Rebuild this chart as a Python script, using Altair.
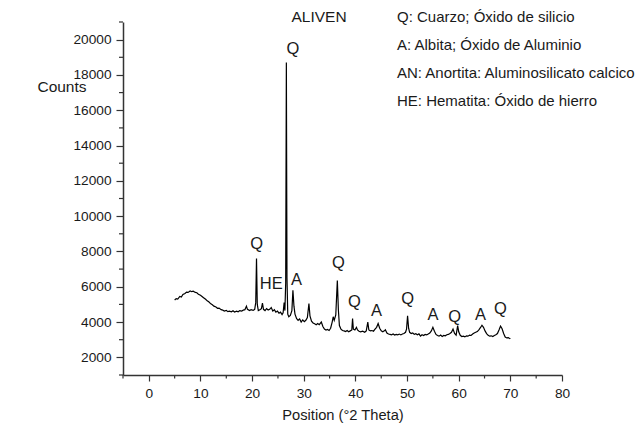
import altair as alt
import pandas as pd

# ---- data ----
two_theta = [
    5.0, 5.3, 5.6, 6.0, 6.3, 6.6, 7.0, 7.3, 7.6, 8.0, 8.3, 8.6, 9.0, 9.3, 9.6,
    10.0, 10.3, 10.6, 11.0, 11.3, 11.6, 12.0, 12.3, 12.6, 13.0, 13.3, 13.6, 14.0,
    14.3, 14.6, 15.0, 15.3, 15.6, 16.0, 16.3, 16.6, 17.0, 17.3, 17.6, 18.0, 18.3,
    18.6, 18.9, 19.1, 19.5, 19.8, 20.2, 20.5, 20.7, 20.85, 21.0, 21.2, 21.5, 21.8,
    22.0, 22.2, 22.5, 22.8, 23.1, 23.4, 23.7, 24.0, 24.3, 24.6, 24.9, 25.2, 25.5,
    25.8, 26.0, 26.2, 26.35, 26.5, 26.63, 26.75, 26.9, 27.1, 27.4, 27.7, 27.9,
    28.1, 28.3, 28.6, 28.9, 29.2, 29.5, 29.8, 30.1, 30.4, 30.7, 31.0, 31.2, 31.5,
    31.8, 32.1, 32.4, 32.7, 33.0, 33.4, 33.7, 34.0, 34.3, 34.6, 34.9, 35.2, 35.5,
    35.7, 35.9, 36.2, 36.5, 36.7, 36.9, 37.2, 37.5, 37.8, 38.1, 38.4, 38.7, 39.0,
    39.3, 39.45, 39.6, 39.9, 40.2, 40.4, 40.7, 41.0, 41.4, 41.8, 42.1, 42.4, 42.6,
    42.9, 43.2, 43.5, 43.8, 44.1, 44.4, 44.7, 45.0, 45.3, 45.6, 45.8, 46.1, 46.4,
    46.7, 47.0, 47.3, 47.6, 47.9, 48.2, 48.5, 48.8, 49.1, 49.4, 49.7, 49.9, 50.1,
    50.3, 50.5, 50.8, 51.1, 51.4, 51.7, 52.0, 52.3, 52.6, 52.9, 53.2, 53.5, 53.8,
    54.1, 54.4, 54.7, 55.0, 55.3, 55.6, 55.9, 56.2, 56.5, 56.8, 57.1, 57.4, 57.7,
    58.0, 58.3, 58.6, 58.9, 59.2, 59.5, 59.8, 60.0, 60.3, 60.6, 60.9, 61.2, 61.5,
    61.8, 62.1, 62.4, 62.7, 63.0, 63.3, 63.6, 63.9, 64.2, 64.5, 64.8, 65.1, 65.4,
    65.7, 66.0, 66.3, 66.6, 66.9, 67.2, 67.5, 67.8, 68.1, 68.4, 68.7, 69.0, 69.3,
    69.6, 69.9, 70.0,
]
counts = [
    5250, 5330, 5300, 5450, 5420, 5560, 5620, 5700, 5680, 5760, 5720, 5750, 5680, 5660, 5580,
    5520, 5450, 5380, 5290, 5200, 5150, 5030, 4980, 4900, 4850, 4780, 4790, 4700,
    4680, 4620, 4660, 4590, 4620, 4580, 4640, 4570, 4620, 4580, 4650, 4620, 4680,
    4700, 4900, 4720, 4650, 4700, 4660, 4720, 5100, 7600, 5000, 4650, 4700, 4760,
    5080, 4720, 4650, 4760, 4680, 4720, 4820, 4620, 4700, 4560, 4620, 4500, 4560,
    4420, 4520, 5100, 4650, 6200, 18700, 6500, 4450, 4300, 4380, 4650, 5800,
    4900, 4450, 4200, 4100, 4180, 4000, 4120, 4020, 4100, 4250, 5050, 4350, 4050,
    3950, 3900, 3850, 3920, 3850, 4000, 3750, 3600, 3550, 3580, 3520, 3650, 4000,
    4300, 4100, 4400, 6350, 4700, 3800, 3600, 3520, 3500, 3460, 3520, 3450, 3500,
    3550, 4200, 3600, 3550, 3700, 3550, 3480, 3450, 3480, 3420, 3500, 4000, 3550,
    3500, 3520, 3480, 3600, 3700, 3920, 3650, 3500, 3450, 3500, 3560, 3380, 3320,
    3300, 3280, 3320, 3260, 3300, 3280, 3320, 3270, 3320, 3350, 3420, 3600, 4350,
    3650, 3420, 3350, 3380, 3300, 3340, 3280, 3330, 3200, 3280, 3240, 3300, 3280,
    3320, 3380, 3500, 3700, 3480, 3300, 3240, 3200, 3260, 3180, 3240, 3220, 3280,
    3300, 3350, 3420, 3600, 3350, 3260, 3800, 3450, 3250, 3180, 3200, 3160, 3220,
    3200, 3260, 3240, 3320, 3380, 3420, 3460, 3560, 3680, 3820, 3700, 3500, 3350,
    3250, 3200, 3220, 3180, 3240, 3280, 3350, 3550, 3770, 3620, 3350, 3150, 3100,
    3120, 3060, 3080,
]

peak_labels = ["Q", "Q", "HE", "A", "Q", "Q", "A", "Q", "A", "Q", "A", "Q"]
peak_x = [27.9, 20.9, 23.7, 28.6, 36.7, 39.8, 44.1, 50.1, 55.0, 59.2, 64.2, 68.1]
peak_y = [19470, 8400, 6150, 6400, 7350, 5130, 4620, 5290, 4400, 4300, 4400, 4720]

legend_lines = [
    "Q: Cuarzo; Óxido de silicio",
    "A: Albita; Óxido de Aluminio",
    "AN: Anortita: Aluminosilicato calcico",
    "HE: Hematita: Óxido de hierro",
]
sample_name = "ALIVEN"
x_title = "Position (°2 Theta)"
y_title = "Counts"

x_major = [0, 10, 20, 30, 40, 50, 60, 70, 80]
x_minor = [-5, 5, 15, 25, 35, 45, 55, 65, 75]
y_major = [2000, 4000, 6000, 8000, 10000, 12000, 14000, 16000, 18000, 20000]
y_minor = [1000, 3000, 5000, 7000, 9000, 11000, 13000, 15000, 17000, 19000, 21000]

# ---- chart ----
FONT = "Liberation Sans"
W, H = 439, 353
AX = "#333333"
TXT = "#1a1a1a"

xs = alt.Scale(domain=[-5, 80], nice=False, zero=False)
ys = alt.Scale(domain=[1000, 21000], nice=False, zero=False)

x_axis = alt.Axis(values=x_major, title=None, tickSize=6, labelPadding=5,
                  labelFlush=False, format="d")
y_axis = alt.Axis(values=y_major, title=None, tickSize=7, labelPadding=5,
                  format="d")

df = pd.DataFrame({"theta": two_theta, "counts": counts})

line = alt.Chart(df).mark_line(color="black", strokeWidth=1.2).encode(
    x=alt.X("theta:Q", scale=xs, axis=x_axis),
    y=alt.Y("counts:Q", scale=ys, axis=y_axis),
)

xminor = alt.Chart(pd.DataFrame({"theta": x_minor})).mark_rule(
    color=AX, strokeWidth=1.2
).encode(
    x=alt.X("theta:Q", scale=xs, axis=x_axis),
    y=alt.value(H),
    y2=alt.value(H + 3.5),
)

yminor = alt.Chart(pd.DataFrame({"counts": y_minor})).mark_rule(
    color=AX, strokeWidth=1.2
).encode(
    y=alt.Y("counts:Q", scale=ys, axis=y_axis),
    x=alt.value(-4),
    x2=alt.value(0),
)

peaks = alt.Chart(pd.DataFrame({"theta": peak_x, "counts": peak_y, "lab": peak_labels})).mark_text(
    font=FONT, fontSize=16.5, color=TXT, align="center", baseline="middle"
).encode(
    x=alt.X("theta:Q", scale=xs, axis=x_axis),
    y=alt.Y("counts:Q", scale=ys, axis=y_axis),
    text="lab:N",
)

layers = [line, xminor, yminor, peaks]


def label(txt, px, py, size=13, align="center"):
    return alt.Chart(pd.DataFrame({"t": [txt]})).mark_text(
        font=FONT, fontSize=size, color=TXT, align=align, baseline="middle"
    ).encode(text="t:N", x=alt.value(px), y=alt.value(py))


layers.append(label(sample_name, 196, -5, 15.5))
layers.append(label(y_title, -61, 65, 15.5))
layers.append(label(x_title, 220, 41 + H, 14.7))
for i, t in enumerate(legend_lines):
    layers.append(label(t, 274, -5 + 28 * i, 15, "left"))

chart = alt.layer(*layers).properties(
    width=W,
    height=H,
    autosize="none",
    padding={"left": 123, "top": 22, "right": 80, "bottom": 55},
    background="white",
).configure_view(stroke=None).configure_axis(
    domainColor=AX,
    domainWidth=1.5,
    tickColor=AX,
    tickWidth=1.2,
    labelFont=FONT,
    labelFontSize=13.7,
    labelColor=TXT,
    grid=False,
)

chart.save("out.html", embed_options={"renderer": "svg", "actions": False})
